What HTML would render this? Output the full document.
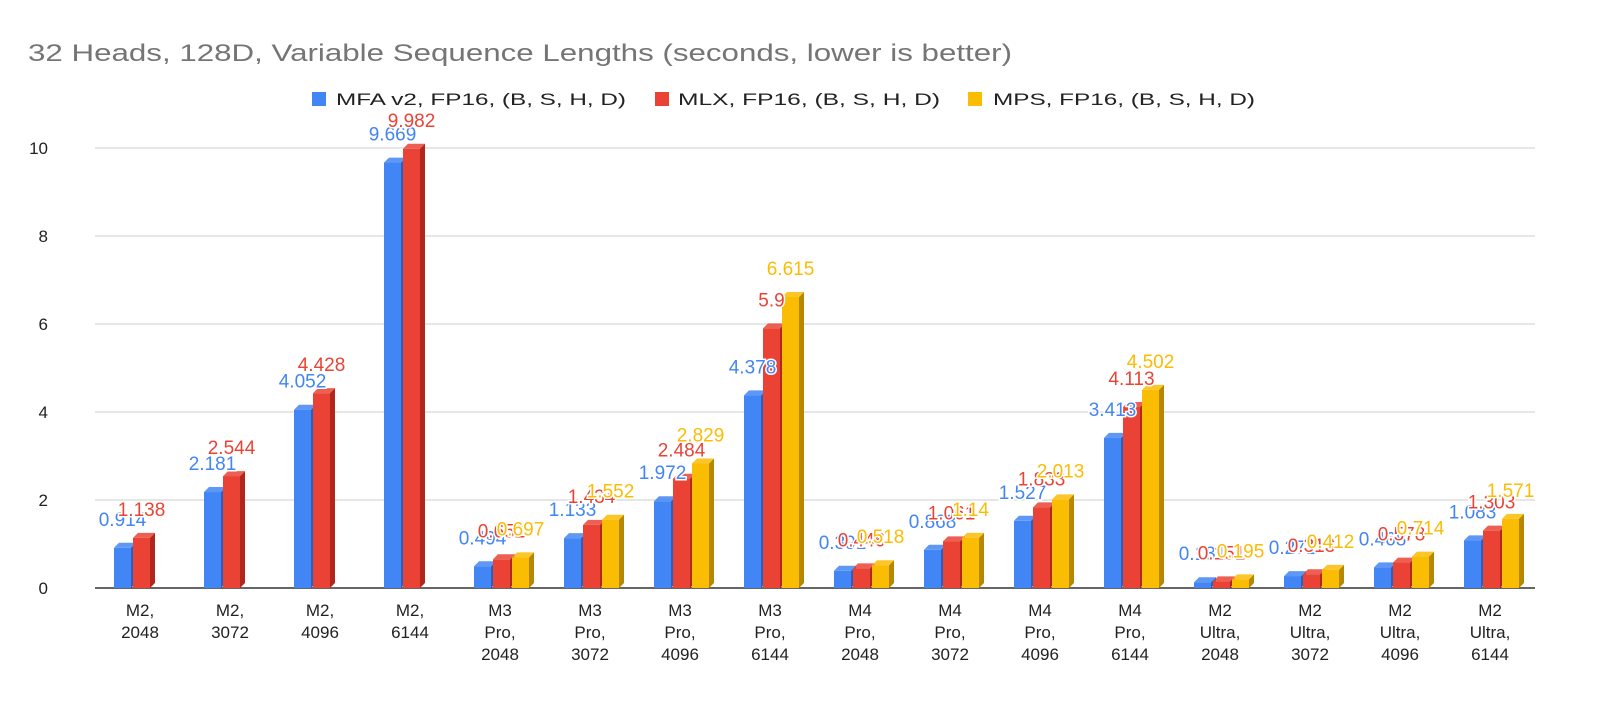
<!DOCTYPE html>
<html><head><meta charset="utf-8"><style>
body{margin:0;background:#fff;}
svg{display:block;font-family:"Liberation Sans",Arial,sans-serif;}
</style></head><body>
<svg id="chart" width="1600" height="728" viewBox="0 0 1600 728" xmlns="http://www.w3.org/2000/svg">
<rect width="1600" height="728" fill="#fff"/>
<text x="28" y="61" font-size="24" fill="#757575" textLength="984" lengthAdjust="spacingAndGlyphs">32 Heads, 128D, Variable Sequence Lengths (seconds, lower is better)</text>
<g>
<g><rect x="312" y="92" width="14" height="14" fill="#4285f4"/><text x="336" y="105" font-size="17" fill="#222" textLength="290" lengthAdjust="spacingAndGlyphs">MFA v2, FP16, (B, S, H, D)</text></g>
<g><rect x="655" y="92" width="14" height="14" fill="#ea4335"/><text x="678" y="105" font-size="17" fill="#222" textLength="262" lengthAdjust="spacingAndGlyphs">MLX, FP16, (B, S, H, D)</text></g>
<g><rect x="968" y="92" width="14" height="14" fill="#fbbc04"/><text x="993" y="105" font-size="17" fill="#222" textLength="262" lengthAdjust="spacingAndGlyphs">MPS, FP16, (B, S, H, D)</text></g>
</g>
<g id="grid"></g><g id="bars"></g><g id="labels"></g><g id="xlabels"></g>
</svg>
<script>
const categories = [["M2,","2048"],["M2,","3072"],["M2,","4096"],["M2,","6144"],["M3","Pro,","2048"],["M3","Pro,","3072"],["M3","Pro,","4096"],["M3","Pro,","6144"],["M4","Pro,","2048"],["M4","Pro,","3072"],["M4","Pro,","4096"],["M4","Pro,","6144"],["M2","Ultra,","2048"],["M2","Ultra,","3072"],["M2","Ultra,","4096"],["M2","Ultra,","6144"]];
const mfaValues = [0.914,2.181,4.052,9.669,0.494,1.133,1.972,4.378,0.391,0.868,1.527,3.413,0.131,0.271,0.468,1.083];
const mlxValues = [1.138,2.544,4.428,9.982,0.652,1.434,2.484,5.9,0.446,1.061,1.833,4.113,0.151,0.313,0.578,1.303];
const mpsValues = [null,null,null,null,0.697,1.552,2.829,6.615,0.518,1.14,2.013,4.502,0.195,0.412,0.714,1.571];
const yTicks = [0,2,4,6,8,10];
const NS="http://www.w3.org/2000/svg";
const x0=95,x1=1535,yBase=588,yTop=148,yMax=10;
const bw=(x1-x0)/categories.length;
const y=v=>yBase-(v/yMax)*(yBase-yTop);
const xc=i=>x0+bw*(i+0.5);
function mk(tag,attrs,parent){const e=document.createElementNS(NS,tag);for(const k in attrs)e.setAttribute(k,attrs[k]);parent.appendChild(e);return e;}
const grid=document.getElementById('grid'),bars=document.getElementById('bars'),labels=document.getElementById('labels'),xl=document.getElementById('xlabels');
yTicks.forEach(t=>{
  const l=mk('line',{x1:x0,x2:x1,y1:y(t),y2:y(t),stroke:t===0?'#333':'#ccc','stroke-width':t===0?1.5:1},grid);
  
  
  const tx=mk('text',{x:48,y:y(t)+6,'font-size':17,fill:'#222','text-anchor':'end'},grid);
  tx.textContent=t;
  
  
});
const series=[{v:mfaValues,c:'#4285f4',s:'#2a5fc0',t:'#2d6be0',n:'mfa'},{v:mlxValues,c:'#ea4335',s:'#b0281d',t:'#d9342a',n:'mlx'},{v:mpsValues,c:'#fbbc04',s:'#b58800',t:'#f2b000',n:'mps'}];
const W=17,D=5;
categories.forEach((cat,i)=>{
  series.forEach((s,j)=>{
    const v=s.v[i]; if(v==null) return;
    const bx=xc(i)-26+j*19, top=y(v);
    const g=mk('g',{},bars);
    
    
    mk('polygon',{points:`${bx+W},${top} ${bx+W+D},${top-D} ${bx+W+D},${yBase-D} ${bx+W},${yBase}`,fill:s.s},g);
    mk('polygon',{points:`${bx},${top} ${bx+D},${top-D} ${bx+W+D},${top-D} ${bx+W},${top}`,fill:s.c,opacity:0.85},g);
    mk('rect',{x:bx,y:top,width:W,height:yBase-top,fill:s.c},g);
    const t=mk('text',{x:bx+W/2,y:top-22,'font-size':19,fill:s.c,'text-anchor':'middle',stroke:'#fff','stroke-width':3,'paint-order':'stroke'},labels);
    t.textContent=v;
    
    
  });
  const t=mk('text',{'font-size':17,fill:'#222','text-anchor':'middle'},xl);
  
  
  cat.forEach((line,k)=>{const ts=mk('tspan',{x:xc(i),y:616+k*22},t);ts.textContent=line;});
});
</script>
</body></html>
